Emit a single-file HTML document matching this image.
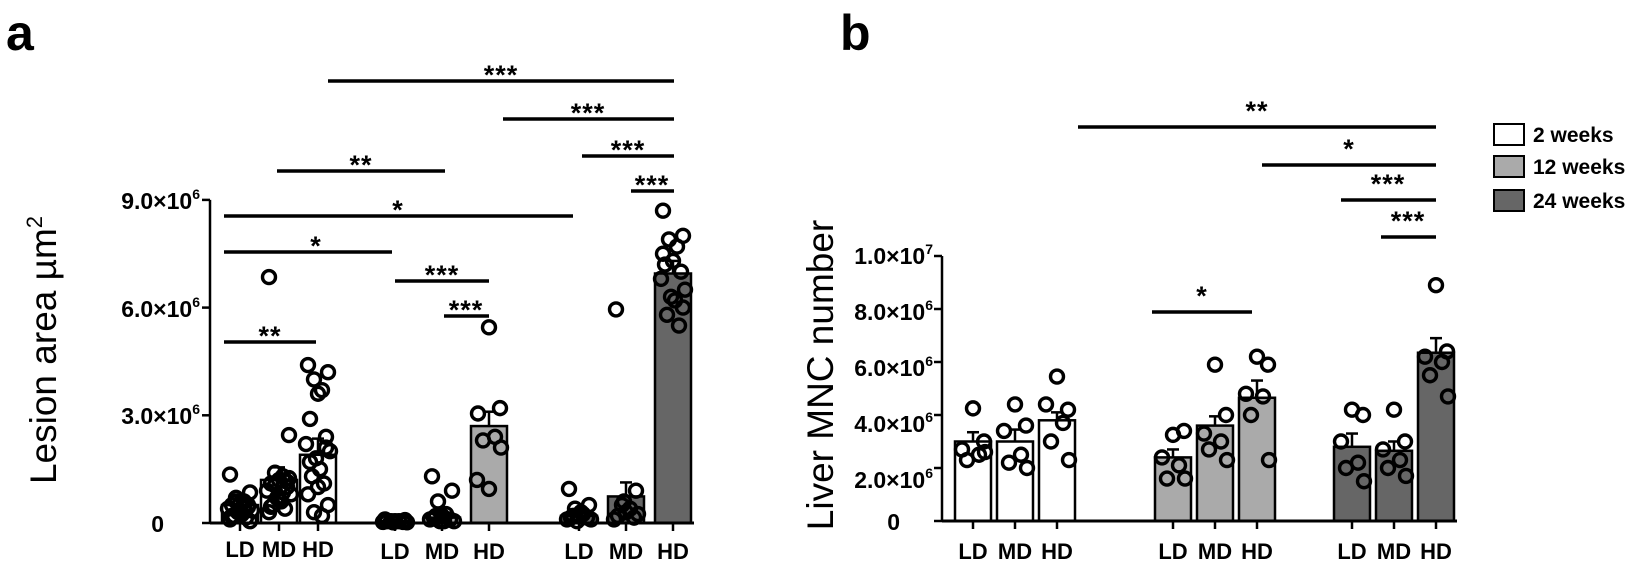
<!DOCTYPE html>
<html><head><meta charset="utf-8"><style>
html,body{margin:0;padding:0;background:#fff;}
svg{display:block;}
text{font-family:"Liberation Sans",sans-serif;fill:#000;}
.tk{font-size:23px;font-weight:bold;text-anchor:end;}
.xl{font-size:22px;font-weight:bold;text-anchor:middle;}
.st{font-size:27px;font-weight:bold;text-anchor:middle;letter-spacing:1px;}
.yl{font-size:37px;text-anchor:middle;}
.lg{font-size:21px;font-weight:bold;}
</style></head><body>
<svg id="s" width="1650" height="570" viewBox="0 0 1650 570" xmlns="http://www.w3.org/2000/svg">
<text x="6" y="50" style="font-size:50px;font-weight:bold">a</text>
<text x="840" y="50" style="font-size:50px;font-weight:bold">b</text>
<text class="yl" transform="translate(56,350) rotate(-90)">Lesion area µm<tspan dy="-14" font-size="22">2</tspan></text>
<text class="tk" x="200" y="209">9.0×10<tspan dy="-10" font-size="14">6</tspan></text>
<text class="tk" x="200" y="317">6.0×10<tspan dy="-10" font-size="14">6</tspan></text>
<text class="tk" x="200" y="424">3.0×10<tspan dy="-10" font-size="14">6</tspan></text>
<text class="tk" x="164" y="532">0</text>
<text class="xl" x="240" y="557">LD</text><text class="xl" x="279" y="557">MD</text><text class="xl" x="318" y="557">HD</text>
<text class="xl" x="395" y="559">LD</text><text class="xl" x="442" y="559">MD</text><text class="xl" x="489" y="559">HD</text>
<text class="xl" x="579" y="559">LD</text><text class="xl" x="626" y="559">MD</text><text class="xl" x="673" y="559">HD</text>
<text class="st" x="501" y="84">***</text>
<text class="st" x="588" y="122">***</text>
<text class="st" x="628" y="159">***</text>
<text class="st" x="652" y="194">***</text>
<text class="st" x="361" y="174">**</text>
<text class="st" x="398" y="219">*</text>
<text class="st" x="316" y="255">*</text>
<text class="st" x="442" y="284">***</text>
<text class="st" x="466" y="319">***</text>
<text class="st" x="270" y="345">**</text>
<text class="yl" transform="translate(833,375) rotate(-90)">Liver MNC number</text>
<text class="tk" x="933" y="264">1.0×10<tspan dy="-10" font-size="14">7</tspan></text>
<text class="tk" x="933" y="320">8.0×10<tspan dy="-10" font-size="14">6</tspan></text>
<text class="tk" x="933" y="376">6.0×10<tspan dy="-10" font-size="14">6</tspan></text>
<text class="tk" x="933" y="432">4.0×10<tspan dy="-10" font-size="14">6</tspan></text>
<text class="tk" x="933" y="488">2.0×10<tspan dy="-10" font-size="14">6</tspan></text>
<text class="tk" x="900" y="530">0</text>
<text class="xl" x="973" y="559">LD</text><text class="xl" x="1015" y="559">MD</text><text class="xl" x="1057" y="559">HD</text>
<text class="xl" x="1173" y="559">LD</text><text class="xl" x="1215" y="559">MD</text><text class="xl" x="1257" y="559">HD</text>
<text class="xl" x="1352" y="559">LD</text><text class="xl" x="1394" y="559">MD</text><text class="xl" x="1436" y="559">HD</text>
<text class="st" x="1257" y="120">**</text>
<text class="st" x="1349" y="158">*</text>
<text class="st" x="1388" y="193">***</text>
<text class="st" x="1408" y="230">***</text>
<text class="st" x="1202" y="305">*</text>
<rect x="1494" y="124" width="30" height="21" fill="#fff" stroke="#000" stroke-width="2"/>
<rect x="1494" y="156" width="30" height="21" fill="#aaa" stroke="#000" stroke-width="2"/>
<rect x="1494" y="190" width="30" height="21" fill="#666" stroke="#000" stroke-width="2"/>
<text class="lg" x="1533" y="142">2 weeks</text>
<text class="lg" x="1533" y="174">12 weeks</text>
<text class="lg" x="1533" y="208">24 weeks</text>
<g id="g"></g>
</svg>
<script>
var g=document.getElementById('g'),NS='http://www.w3.org/2000/svg';
function el(t,a){var e=document.createElementNS(NS,t);for(var k in a)e.setAttribute(k,a[k]);g.appendChild(e);return e;}
function line(x1,y1,x2,y2,w){el('line',{x1:x1,y1:y1,x2:x2,y2:y2,stroke:'#000','stroke-width':w||3});}
var a0=523,as=35.9;function ya(v){return a0-v*as;}
line(210,ya(9),210,a0,2.5);[9,6,3,0].forEach(function(v){line(202,ya(v),210,ya(v),2.5);});
var sa=[[328,674,81],[503,674,119],[582,674,156],[631,674,191],[277,445,171],[224,573,216],[224,392,252],[395,489,281],[444,489,316],[224,316,342]];
sa.forEach(function(s){line(s[0],s[2],s[1],s[2],3.5);});
var A=[
[240,'#fff',0.5,0.75,[1.35,0.85,0.7,0.6,0.55,0.5,0.45,0.4,0.35,0.3,0.25,0.2,0.15,0.1,0.05,0.6,0.45,0.3,0.2,0.5]],
[279,'#fff',1.2,1.55,[6.85,2.45,1.4,1.3,1.2,1.1,1.0,0.9,0.8,0.7,0.6,0.5,0.4,0.3,1.25,1.05,0.85,0.65,0.45,1.15]],
[318,'#fff',1.9,2.35,[4.4,4.2,4.0,3.7,3.6,2.9,2.4,2.2,2.0,1.8,1.5,1.3,1.1,0.8,0.5,0.3,0.2,1.0,1.7,2.1]],
[395,'#aaa',0.05,0.08,[0.1,0.08,0.05,0.05,0.05,0.05,0.03,0.03,0.02,0.02]],
[442,'#aaa',0.15,0.3,[1.3,0.9,0.6,0.25,0.2,0.15,0.1,0.1,0.05,0.05,0.05,0.2]],
[489,'#aaa',2.7,3.1,[5.45,3.2,3.05,2.4,2.3,2.1,1.2,0.95]],
[579,'#666',0.2,0.3,[0.95,0.5,0.4,0.25,0.2,0.15,0.15,0.1,0.1,0.05,0.3,0.2]],
[626,'#666',0.74,1.13,[5.95,0.9,0.5,0.4,0.3,0.2,0.15,0.1,0.25,0.6]],
[673,'#666',6.95,7.3,[8.7,8.0,7.9,7.7,7.3,7.2,7.0,6.8,6.5,6.3,6.2,5.8,5.5,7.5,6.0]]];
var b0=521,bs=26.5;function yb(v){return b0-v*bs;}
var B=[
[973,'#fff',3.0,3.35,[4.25,3.0,2.7,2.5,2.3,2.6]],
[1015,'#fff',3.0,3.45,[4.4,3.6,3.4,2.5,2.2,2.0]],
[1057,'#fff',3.8,4.1,[5.45,4.2,4.4,3.7,3.0,2.3]],
[1173,'#aaa',2.4,2.7,[3.25,3.4,2.4,2.1,1.6,1.6]],
[1215,'#aaa',3.6,3.95,[5.9,4.0,3.3,3.0,2.7,2.3]],
[1257,'#aaa',4.65,5.3,[6.2,5.9,4.8,4.7,4.0,2.3]],
[1352,'#666',2.8,3.3,[4.2,4.0,3.0,2.2,2.0,1.5]],
[1394,'#666',2.65,3.0,[4.2,3.0,2.7,2.3,2.0,1.7]],
[1436,'#666',6.35,6.9,[8.9,6.4,6.2,6.0,5.5,4.7]]];
function draw(D,yf,bw,r){D.forEach(function(d){var x=d[0],t=yf(d[2]);
 el('rect',{x:x-bw/2,y:t,width:bw,height:yf(0)-t,fill:d[1],stroke:'#000','stroke-width':2.5});
 line(x,t,x,yf(d[3]),2.5);line(x-6,yf(d[3]),x+6,yf(d[3]),2.5);
 var offs=[-10,10,-4,4,0,-8,8,-12,12,-2,2,-6,6];
 d[4].forEach(function(v,i){var ox=d[4].length<=8?[0,11,-11,6,-6,12,-12,0][i]:offs[i%offs.length];
  el('circle',{cx:x+ox,cy:yf(v),r:r,fill:'none',stroke:'#000','stroke-width':3.4});});
});}
draw(A,ya,36,6.5);
line(210,a0,694,a0,3);
A.forEach(function(d){line(d[0],a0,d[0],a0+8,2.5);});
line(942,yb(10),942,b0,2.5);
for(var v=0;v<=10;v+=2){line(934,yb(v),942,yb(v),2.5);}
var sb=[[1078,1436,127],[1262,1436,165],[1341,1436,200],[1381,1436,237],[1152,1252,312]];
sb.forEach(function(s){line(s[0],s[2],s[1],s[2],3.5);});
draw(B,yb,36,6.5);
line(942,b0,1457,b0,3);
B.forEach(function(d){line(d[0],b0,d[0],b0+8,2.5);});
</script>
</body></html>
